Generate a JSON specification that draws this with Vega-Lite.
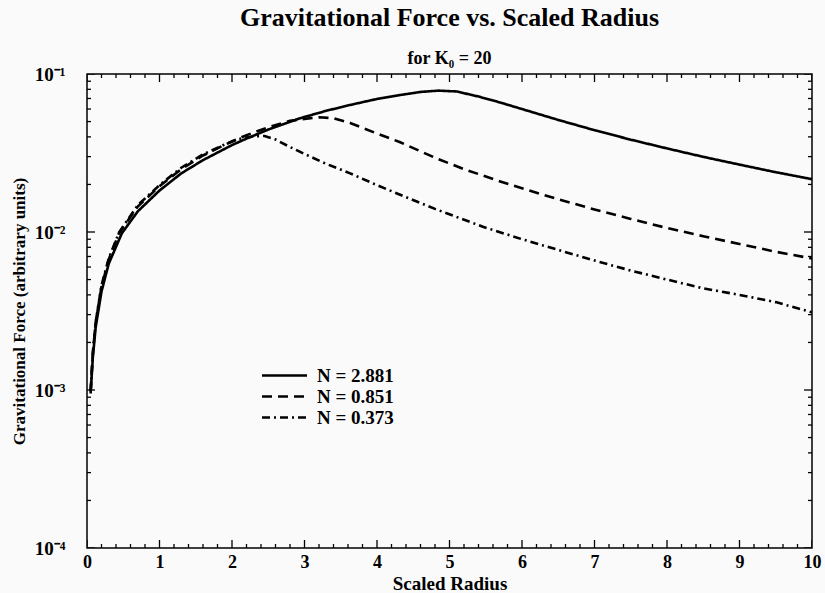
{
  "$schema": "https://vega.github.io/schema/vega-lite/v6.json",
  "width": 725,
  "height": 474,
  "autosize": {"type": "none"},
  "padding": {"left": 87, "top": 74, "right": 13, "bottom": 45},
  "background": "#fafafa",
  "title": {
    "text": "Gravitational Force vs. Scaled Radius",
    "subtitle": "for K₀ = 20",
    "font": "Liberation Serif", "fontSize": 26, "fontWeight": "bold", "color": "black",
    "subtitleFont": "Liberation Serif", "subtitleFontSize": 18, "subtitleFontWeight": "bold", "subtitleColor": "black",
    "offset": -3, "subtitlePadding": 19, "anchor": "middle"
  },
  "config": {
    "view": {"stroke": "black", "strokeWidth": 1.5},
    "axis": {
      "domain": false, "ticks": false, "grid": false,
      "labelColor": "black", "labelFont": "Liberation Serif", "labelFontWeight": "bold",
      "titleFont": "Liberation Serif", "titleFontWeight": "bold", "titleColor": "black",
      "labelOverlap": false, "labelFlush": false
    }
  },
  "datasets": {
    "curves": [
      {"r": 0.05, "F": 0.00095, "N": "N = 2.881"},
      {"r": 0.08, "F": 0.0016, "N": "N = 2.881"},
      {"r": 0.12, "F": 0.0025, "N": "N = 2.881"},
      {"r": 0.2, "F": 0.0042, "N": "N = 2.881"},
      {"r": 0.3, "F": 0.0063, "N": "N = 2.881"},
      {"r": 0.48, "F": 0.0098, "N": "N = 2.881"},
      {"r": 0.7, "F": 0.0135, "N": "N = 2.881"},
      {"r": 1.0, "F": 0.0183, "N": "N = 2.881"},
      {"r": 1.3, "F": 0.0235, "N": "N = 2.881"},
      {"r": 1.6, "F": 0.0285, "N": "N = 2.881"},
      {"r": 2.0, "F": 0.0355, "N": "N = 2.881"},
      {"r": 2.2, "F": 0.039, "N": "N = 2.881"},
      {"r": 2.5, "F": 0.0445, "N": "N = 2.881"},
      {"r": 2.94, "F": 0.0525, "N": "N = 2.881"},
      {"r": 3.3, "F": 0.0585, "N": "N = 2.881"},
      {"r": 3.63, "F": 0.0637, "N": "N = 2.881"},
      {"r": 4.0, "F": 0.0695, "N": "N = 2.881"},
      {"r": 4.32, "F": 0.0736, "N": "N = 2.881"},
      {"r": 4.6, "F": 0.077, "N": "N = 2.881"},
      {"r": 4.85, "F": 0.0785, "N": "N = 2.881"},
      {"r": 5.1, "F": 0.0775, "N": "N = 2.881"},
      {"r": 5.4, "F": 0.072, "N": "N = 2.881"},
      {"r": 5.7, "F": 0.066, "N": "N = 2.881"},
      {"r": 6.0, "F": 0.06, "N": "N = 2.881"},
      {"r": 6.5, "F": 0.0512, "N": "N = 2.881"},
      {"r": 7.0, "F": 0.0441, "N": "N = 2.881"},
      {"r": 7.5, "F": 0.0384, "N": "N = 2.881"},
      {"r": 8.0, "F": 0.0338, "N": "N = 2.881"},
      {"r": 8.5, "F": 0.0299, "N": "N = 2.881"},
      {"r": 9.0, "F": 0.0267, "N": "N = 2.881"},
      {"r": 9.5, "F": 0.0239, "N": "N = 2.881"},
      {"r": 10.0, "F": 0.0216, "N": "N = 2.881"},
      {"r": 0.05, "F": 0.00098, "N": "N = 0.851"},
      {"r": 0.08, "F": 0.0017, "N": "N = 0.851"},
      {"r": 0.12, "F": 0.0027, "N": "N = 0.851"},
      {"r": 0.2, "F": 0.0045, "N": "N = 0.851"},
      {"r": 0.3, "F": 0.0067, "N": "N = 0.851"},
      {"r": 0.44, "F": 0.0098, "N": "N = 0.851"},
      {"r": 0.7, "F": 0.0145, "N": "N = 0.851"},
      {"r": 1.0, "F": 0.0195, "N": "N = 0.851"},
      {"r": 1.3, "F": 0.025, "N": "N = 0.851"},
      {"r": 1.6, "F": 0.0305, "N": "N = 0.851"},
      {"r": 2.0, "F": 0.0375, "N": "N = 0.851"},
      {"r": 2.2, "F": 0.041, "N": "N = 0.851"},
      {"r": 2.5, "F": 0.046, "N": "N = 0.851"},
      {"r": 2.8, "F": 0.0505, "N": "N = 0.851"},
      {"r": 3.0, "F": 0.052, "N": "N = 0.851"},
      {"r": 3.2, "F": 0.0532, "N": "N = 0.851"},
      {"r": 3.4, "F": 0.0525, "N": "N = 0.851"},
      {"r": 3.63, "F": 0.049, "N": "N = 0.851"},
      {"r": 4.0, "F": 0.042, "N": "N = 0.851"},
      {"r": 4.32, "F": 0.037, "N": "N = 0.851"},
      {"r": 4.8, "F": 0.0295, "N": "N = 0.851"},
      {"r": 5.2, "F": 0.025, "N": "N = 0.851"},
      {"r": 5.7, "F": 0.0209, "N": "N = 0.851"},
      {"r": 6.0, "F": 0.0189, "N": "N = 0.851"},
      {"r": 6.5, "F": 0.0161, "N": "N = 0.851"},
      {"r": 7.0, "F": 0.0139, "N": "N = 0.851"},
      {"r": 7.5, "F": 0.0121, "N": "N = 0.851"},
      {"r": 8.0, "F": 0.0106, "N": "N = 0.851"},
      {"r": 8.5, "F": 0.0094, "N": "N = 0.851"},
      {"r": 9.0, "F": 0.0084, "N": "N = 0.851"},
      {"r": 9.5, "F": 0.0075, "N": "N = 0.851"},
      {"r": 10.0, "F": 0.0068, "N": "N = 0.851"},
      {"r": 0.05, "F": 0.00098, "N": "N = 0.373"},
      {"r": 0.08, "F": 0.0017, "N": "N = 0.373"},
      {"r": 0.12, "F": 0.0027, "N": "N = 0.373"},
      {"r": 0.2, "F": 0.0046, "N": "N = 0.373"},
      {"r": 0.3, "F": 0.0068, "N": "N = 0.373"},
      {"r": 0.44, "F": 0.0099, "N": "N = 0.373"},
      {"r": 0.7, "F": 0.0148, "N": "N = 0.373"},
      {"r": 1.0, "F": 0.0198, "N": "N = 0.373"},
      {"r": 1.3, "F": 0.0255, "N": "N = 0.373"},
      {"r": 1.6, "F": 0.031, "N": "N = 0.373"},
      {"r": 1.9, "F": 0.0358, "N": "N = 0.373"},
      {"r": 2.1, "F": 0.0388, "N": "N = 0.373"},
      {"r": 2.3, "F": 0.0403, "N": "N = 0.373"},
      {"r": 2.45, "F": 0.0405, "N": "N = 0.373"},
      {"r": 2.6, "F": 0.0385, "N": "N = 0.373"},
      {"r": 2.8, "F": 0.0345, "N": "N = 0.373"},
      {"r": 3.0, "F": 0.0312, "N": "N = 0.373"},
      {"r": 3.3, "F": 0.027, "N": "N = 0.373"},
      {"r": 3.63, "F": 0.0235, "N": "N = 0.373"},
      {"r": 4.0, "F": 0.0198, "N": "N = 0.373"},
      {"r": 4.32, "F": 0.0172, "N": "N = 0.373"},
      {"r": 4.8, "F": 0.014, "N": "N = 0.373"},
      {"r": 5.46, "F": 0.0108, "N": "N = 0.373"},
      {"r": 6.0, "F": 0.009, "N": "N = 0.373"},
      {"r": 6.5, "F": 0.0077, "N": "N = 0.373"},
      {"r": 7.0, "F": 0.0066, "N": "N = 0.373"},
      {"r": 7.5, "F": 0.0057, "N": "N = 0.373"},
      {"r": 8.0, "F": 0.005, "N": "N = 0.373"},
      {"r": 8.5, "F": 0.0044, "N": "N = 0.373"},
      {"r": 9.0, "F": 0.004, "N": "N = 0.373"},
      {"r": 9.5, "F": 0.0036, "N": "N = 0.373"},
      {"r": 10.0, "F": 0.0031, "N": "N = 0.373"}
    ],
    "xt": [
      {"t": 0, "major": true}, {"t": 0.2, "major": false}, {"t": 0.4, "major": false}, {"t": 0.6, "major": false}, {"t": 0.8, "major": false},
      {"t": 1, "major": true}, {"t": 1.2, "major": false}, {"t": 1.4, "major": false}, {"t": 1.6, "major": false}, {"t": 1.8, "major": false},
      {"t": 2, "major": true}, {"t": 2.2, "major": false}, {"t": 2.4, "major": false}, {"t": 2.6, "major": false}, {"t": 2.8, "major": false},
      {"t": 3, "major": true}, {"t": 3.2, "major": false}, {"t": 3.4, "major": false}, {"t": 3.6, "major": false}, {"t": 3.8, "major": false},
      {"t": 4, "major": true}, {"t": 4.2, "major": false}, {"t": 4.4, "major": false}, {"t": 4.6, "major": false}, {"t": 4.8, "major": false},
      {"t": 5, "major": true}, {"t": 5.2, "major": false}, {"t": 5.4, "major": false}, {"t": 5.6, "major": false}, {"t": 5.8, "major": false},
      {"t": 6, "major": true}, {"t": 6.2, "major": false}, {"t": 6.4, "major": false}, {"t": 6.6, "major": false}, {"t": 6.8, "major": false},
      {"t": 7, "major": true}, {"t": 7.2, "major": false}, {"t": 7.4, "major": false}, {"t": 7.6, "major": false}, {"t": 7.8, "major": false},
      {"t": 8, "major": true}, {"t": 8.2, "major": false}, {"t": 8.4, "major": false}, {"t": 8.6, "major": false}, {"t": 8.8, "major": false},
      {"t": 9, "major": true}, {"t": 9.2, "major": false}, {"t": 9.4, "major": false}, {"t": 9.6, "major": false}, {"t": 9.8, "major": false},
      {"t": 10, "major": true}
    ],
    "yt": [
      {"t": 0.0001, "major": true}, {"t": 0.0002, "major": false}, {"t": 0.0003, "major": false}, {"t": 0.0004, "major": false}, {"t": 0.0005, "major": false}, {"t": 0.0006, "major": false}, {"t": 0.0007, "major": false}, {"t": 0.0008, "major": false}, {"t": 0.0009, "major": false},
      {"t": 0.001, "major": true}, {"t": 0.002, "major": false}, {"t": 0.003, "major": false}, {"t": 0.004, "major": false}, {"t": 0.005, "major": false}, {"t": 0.006, "major": false}, {"t": 0.007, "major": false}, {"t": 0.008, "major": false}, {"t": 0.009, "major": false},
      {"t": 0.01, "major": true}, {"t": 0.02, "major": false}, {"t": 0.03, "major": false}, {"t": 0.04, "major": false}, {"t": 0.05, "major": false}, {"t": 0.06, "major": false}, {"t": 0.07, "major": false}, {"t": 0.08, "major": false}, {"t": 0.09, "major": false},
      {"t": 0.1, "major": true}
    ]
  },
  "layer": [
    {
      "data": {"name": "curves"},
      "mark": {"type": "line", "color": "black", "strokeWidth": 2.6, "clip": true},
      "encoding": {
        "x": {
          "field": "r", "type": "quantitative",
          "scale": {"domain": [0, 10], "nice": false, "zero": false},
          "axis": {
            "orient": "bottom",
            "values": [0,1,2,3,4,5,6,7,8,9,10],
            "format": "d",
            "labelFontSize": 18, "labelPadding": 14, "labelBaseline": "middle",
            "title": "Scaled Radius", "titleFontSize": 19, "titleY": 35, "titleBaseline": "middle"
          }
        },
        "y": {
          "field": "F", "type": "quantitative",
          "scale": {"type": "log", "domain": [0.0001, 0.1], "nice": false},
          "axis": {
            "orient": "left",
            "values": [0.0001, 0.001, 0.01, 0.1],
            "labelExpr": "datum.value == 0.1 ? '10⁻¹' : datum.value == 0.01 ? '10⁻²' : datum.value == 0.001 ? '10⁻³' : '10⁻⁴'",
            "labelFontSize": 19, "labelPadding": 22,
            "title": "Gravitational Force (arbitrary units)", "titleFontSize": 17,
            "titleX": -68, "titleY": 237, "titleAlign": "center", "titleBaseline": "middle", "titleAngle": -90
          }
        },
        "strokeDash": {
          "field": "N", "type": "nominal",
          "scale": {"domain": ["N = 2.881", "N = 0.851", "N = 0.373"], "range": [[1, 0], [10, 6], [8, 4, 2, 4]]},
          "legend": {
            "orient": "none", "legendX": 188, "legendY": 292, "title": null, "padding": 0,
            "symbolType": "M-3,0H3", "symbolSize": 225, "symbolStrokeWidth": 2.5, "symbolStrokeColor": "black",
            "labelFont": "Liberation Serif", "labelFontSize": 19, "labelFontWeight": "bold", "labelColor": "black",
            "labelOffset": 23, "rowPadding": 1
          }
        }
      }
    },
    {
      "data": {"name": "xt"},
      "mark": {"type": "tick", "orient": "vertical", "color": "black", "thickness": 1.3, "clip": true, "opacity": 1},
      "encoding": {
        "x": {"field": "t", "type": "quantitative"},
        "y": {"datum": 0.0001, "type": "quantitative"},
        "size": {"condition": {"test": "datum.major", "value": 16}, "value": 8}
      }
    },
    {
      "data": {"name": "xt"},
      "mark": {"type": "tick", "orient": "vertical", "color": "black", "thickness": 1.3, "clip": true, "opacity": 1},
      "encoding": {
        "x": {"field": "t", "type": "quantitative"},
        "y": {"datum": 0.1, "type": "quantitative"},
        "size": {"condition": {"test": "datum.major", "value": 16}, "value": 8}
      }
    },
    {
      "data": {"name": "yt"},
      "mark": {"type": "tick", "orient": "horizontal", "color": "black", "thickness": 1.3, "clip": true, "opacity": 1},
      "encoding": {
        "y": {"field": "t", "type": "quantitative"},
        "x": {"datum": 0, "type": "quantitative"},
        "size": {"condition": {"test": "datum.major", "value": 16}, "value": 8}
      }
    },
    {
      "data": {"name": "yt"},
      "mark": {"type": "tick", "orient": "horizontal", "color": "black", "thickness": 1.3, "clip": true, "opacity": 1},
      "encoding": {
        "y": {"field": "t", "type": "quantitative"},
        "x": {"datum": 10, "type": "quantitative"},
        "size": {"condition": {"test": "datum.major", "value": 16}, "value": 8}
      }
    }
  ]
}
